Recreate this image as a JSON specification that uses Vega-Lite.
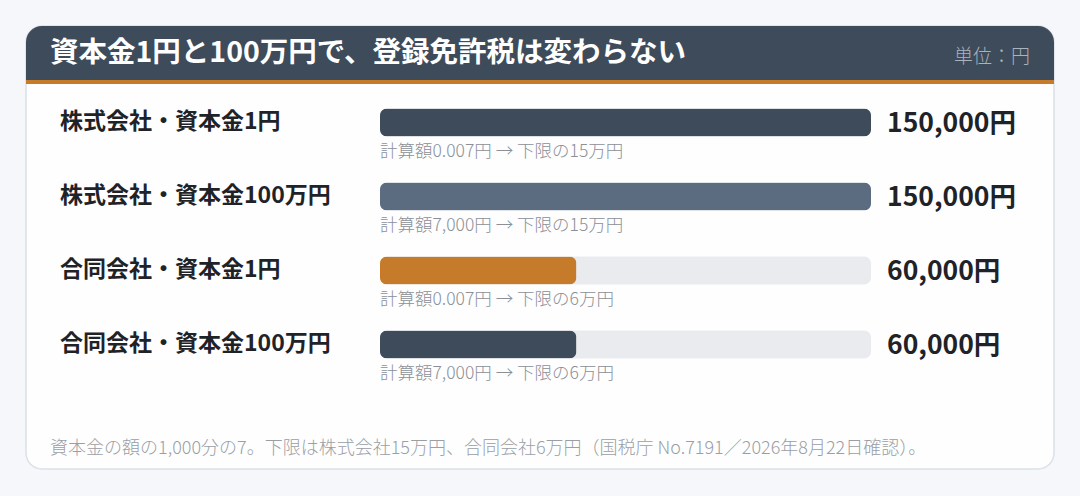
{
  "$schema": "https://vega.github.io/schema/vega-lite/v6.json",
  "description": "Registration license tax for KK and GK at capital 1 yen and 1 million yen",
  "width": 1080,
  "height": 496,
  "autosize": {"type": "fit", "contains": "padding"},
  "padding": {"left": 26, "right": 26, "top": 26, "bottom": 27},
  "background": "#f5f7fa",
  "config": {
    "font": "Noto Sans CJK JP",
    "view": {"fill": "#fefefe", "stroke": "#dbe1e8", "strokeWidth": 1.5, "cornerRadius": 16}
  },
  "datasets": {
    "rows": [
      {"label": "株式会社・資本金1円", "value": 150000, "sub": "計算額0.007円 → 下限の15万円"},
      {"label": "株式会社・資本金100万円", "value": 150000, "sub": "計算額7,000円 → 下限の15万円"},
      {"label": "合同会社・資本金1円", "value": 60000, "sub": "計算額0.007円 → 下限の6万円"},
      {"label": "合同会社・資本金100万円", "value": 60000, "sub": "計算額7,000円 → 下限の6万円"}
    ],
    "header": [
      {
        "title": "資本金1円と100万円で、登録免許税は変わらない",
        "unit": "単位：円",
        "note": "資本金の額の1,000分の7。下限は株式会社15万円、合同会社6万円（国税庁 No.7191／2026年8月22日確認）。"
      }
    ]
  },
  "layer": [
    {
      "data": {"name": "header"},
      "mark": {"type": "rect", "color": "#3e4b5b", "cornerRadiusTopLeft": 16, "cornerRadiusTopRight": 16},
      "encoding": {"x": {"value": 0}, "x2": {"value": "width"}, "y": {"value": 0}, "y2": {"value": 54}}
    },
    {
      "data": {"name": "header"},
      "mark": {"type": "rect", "color": "#c67b2b"},
      "encoding": {"x": {"value": 0}, "x2": {"value": "width"}, "y": {"value": 54}, "y2": {"value": 58}}
    },
    {
      "data": {"name": "header"},
      "mark": {"type": "text", "align": "left", "baseline": "middle", "fontSize": 28.5, "fontWeight": "bold", "color": "#ffffff"},
      "encoding": {"x": {"value": 24}, "y": {"value": 27}, "text": {"field": "title"}}
    },
    {
      "data": {"name": "header"},
      "mark": {"type": "text", "align": "right", "baseline": "middle", "dx": -24, "fontSize": 19, "fontWeight": 300, "color": "#a9b2bd"},
      "encoding": {"x": {"value": "width"}, "y": {"value": 31}, "text": {"field": "unit"}}
    },
    {
      "data": {"name": "header"},
      "mark": {"type": "text", "align": "left", "baseline": "middle", "fontSize": 18, "fontWeight": 300, "color": "#9a9fa6"},
      "encoding": {"x": {"value": 24}, "y": {"value": 423}, "text": {"field": "note"}}
    },
    {
      "data": {"name": "rows"},
      "mark": {"type": "bar", "height": 28, "cornerRadius": 7, "color": "#e9ebef"},
      "encoding": {
        "y": {"field": "label", "type": "nominal", "sort": null, "axis": null, "scale": {"range": [59.5, 355.5], "paddingInner": 0, "paddingOuter": 0}},
        "x": {"datum": 0, "type": "quantitative", "axis": null, "scale": {"domain": [0, 150000], "range": [354, 845]}},
        "x2": {"datum": 150000}
      }
    },
    {
      "data": {"name": "rows"},
      "mark": {"type": "bar", "height": 28, "cornerRadius": 7},
      "encoding": {
        "y": {"field": "label", "type": "nominal", "sort": null, "axis": null, "scale": {"range": [59.5, 355.5], "paddingInner": 0, "paddingOuter": 0}},
        "x": {"field": "value", "type": "quantitative", "axis": null, "scale": {"domain": [0, 150000], "range": [354, 845]}},
        "color": {
          "field": "label",
          "type": "nominal",
          "legend": null,
          "scale": {
            "domain": ["株式会社・資本金1円", "株式会社・資本金100万円", "合同会社・資本金1円", "合同会社・資本金100万円"],
            "range": ["#3e4b5b", "#5b6b80", "#c67b2b", "#3e4b5b"]
          }
        }
      }
    },
    {
      "data": {"name": "rows"},
      "mark": {"type": "text", "align": "left", "baseline": "middle", "dy": -1, "fontSize": 23, "fontWeight": "bold", "color": "#1f2328"},
      "encoding": {
        "y": {"field": "label", "type": "nominal", "sort": null, "axis": null, "scale": {"range": [59.5, 355.5], "paddingInner": 0, "paddingOuter": 0}},
        "x": {"value": 34},
        "text": {"field": "label"}
      }
    },
    {
      "data": {"name": "rows"},
      "mark": {"type": "text", "align": "left", "baseline": "middle", "dy": 29, "fontSize": 17.5, "fontWeight": 300, "color": "#8b9098"},
      "encoding": {
        "y": {"field": "label", "type": "nominal", "sort": null, "axis": null, "scale": {"range": [59.5, 355.5], "paddingInner": 0, "paddingOuter": 0}},
        "x": {"datum": 0, "type": "quantitative", "scale": {"domain": [0, 150000], "range": [354, 845]}},
        "text": {"field": "sub"}
      }
    },
    {
      "data": {"name": "rows"},
      "transform": [{"calculate": "format(datum.value, ',') + '円'", "as": "valueText"}],
      "mark": {"type": "text", "align": "left", "baseline": "middle", "dx": 16, "dy": 1, "fontSize": 26.5, "fontWeight": "bold", "color": "#1f2328"},
      "encoding": {
        "y": {"field": "label", "type": "nominal", "sort": null, "axis": null, "scale": {"range": [59.5, 355.5], "paddingInner": 0, "paddingOuter": 0}},
        "x": {"datum": 150000, "type": "quantitative", "scale": {"domain": [0, 150000], "range": [354, 845]}},
        "text": {"field": "valueText"}
      }
    }
  ]
}
